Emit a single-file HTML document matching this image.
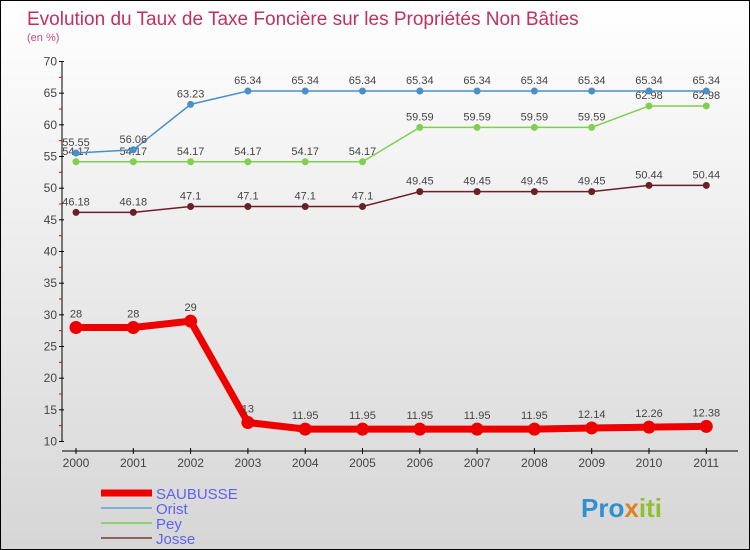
<!DOCTYPE html>
<html><head><meta charset="utf-8"><style>
body{margin:0}
#c{width:748px;height:548px;border:1px solid #000;background:linear-gradient(#fff,#d6d6d6);position:relative;overflow:hidden;font-family:"Liberation Sans",sans-serif}
</style></head><body>
<div id="c">
<svg id="s" width="748" height="548" style="position:absolute;left:0;top:0">
<text x="26" y="24" font-size="19" fill="#c03060">Evolution du Taux de Taxe Foncière sur les Propriétés Non Bâties</text>
<text x="26" y="40" font-size="11" fill="#c05080">(en %)</text>
<text x="580" y="516" font-size="26" font-weight="bold" fill="#3090d0">Pro<tspan fill="#e08020">x</tspan><tspan fill="#90c030">iti</tspan></text>
</svg>
</div>
<script>
const years=[2000,2001,2002,2003,2004,2005,2006,2007,2008,2009,2010,2011];
const saubusse=[28,28,29,13,11.95,11.95,11.95,11.95,11.95,12.14,12.26,12.38];
const orist=[55.55,56.06,63.23,65.34,65.34,65.34,65.34,65.34,65.34,65.34,65.34,65.34];
const pey=[54.17,54.17,54.17,54.17,54.17,54.17,59.59,59.59,59.59,59.59,62.98,62.98];
const josse=[46.18,46.18,47.1,47.1,47.1,47.1,49.45,49.45,49.45,49.45,50.44,50.44];
const yTicks=[10,15,20,25,30,35,40,45,50,55,60,65,70];
const names=['SAUBUSSE','Orist','Pey','Josse'];
const s=document.getElementById('s');const NS='http://www.w3.org/2000/svg';
function X(i){return 75+i*57.3}
function Y(v){return 440.5-(v-10)*380/60}
function mk(t,a,p){const e=document.createElementNS(NS,t);for(const k in a)e.setAttribute(k,a[k]);(p||s).appendChild(e);return e}
let ax=mk('line',{x1:61,y1:60,x2:61,y2:441,stroke:'#000'});


let bx=mk('line',{x1:61,y1:450,x2:737,y2:450,stroke:'#000'});


yTicks.forEach(v=>{mk('line',{x1:58,x2:63,y1:Y(v),y2:Y(v),stroke:'#000'});
if(v<70)mk('line',{x1:58,x2:61,y1:Y(v+2.5),y2:Y(v+2.5),stroke:'#e00'});
const t=mk('text',{x:56,y:Y(v)+4,'font-size':12,fill:'#444','text-anchor':'end'});t.textContent=v;

});
years.forEach((y,i)=>{mk('line',{x1:X(i),x2:X(i),y1:447,y2:453,stroke:'#000'});
const t=mk('text',{x:X(i),y:466,'font-size':12,fill:'#444','text-anchor':'middle'});t.textContent=y;

});
function series(d,col,w,r,name){
const g=mk('g',{});


mk('polyline',{points:d.map((v,i)=>X(i)+','+Y(v)).join(' '),fill:'none',stroke:col,'stroke-width':w},g);
d.forEach((v,i)=>{const c=mk('circle',{cx:X(i),cy:Y(v),r:r,fill:col},g);


const t=mk('text',{x:X(i),y:Y(v)-(w>3?10:7),'font-size':11,fill:'#444','text-anchor':'middle'},g);t.textContent=v;

});}
series(josse,'#6a2028',1.5,3.5,'josse');
series(pey,'#80d050',1.5,3.5,'pey');
series(orist,'#4a90c8',1.5,3.5,'orist');
series(saubusse,'#ee0000',7,6.5,'saubusse');
const lc=['#ee0000','#80b0d0','#90d070','#906060'],lw=[7,2,2,2];
names.forEach((n,i)=>{const yy=492+i*15;
const l=mk('line',{x1:100,x2:151,y1:yy,y2:yy,stroke:lc[i],'stroke-width':lw[i]});


const t=mk('text',{x:155,y:yy+6,'font-size':15,fill:'#6060ee'});t.textContent=n;

});
</script>
</body></html>
